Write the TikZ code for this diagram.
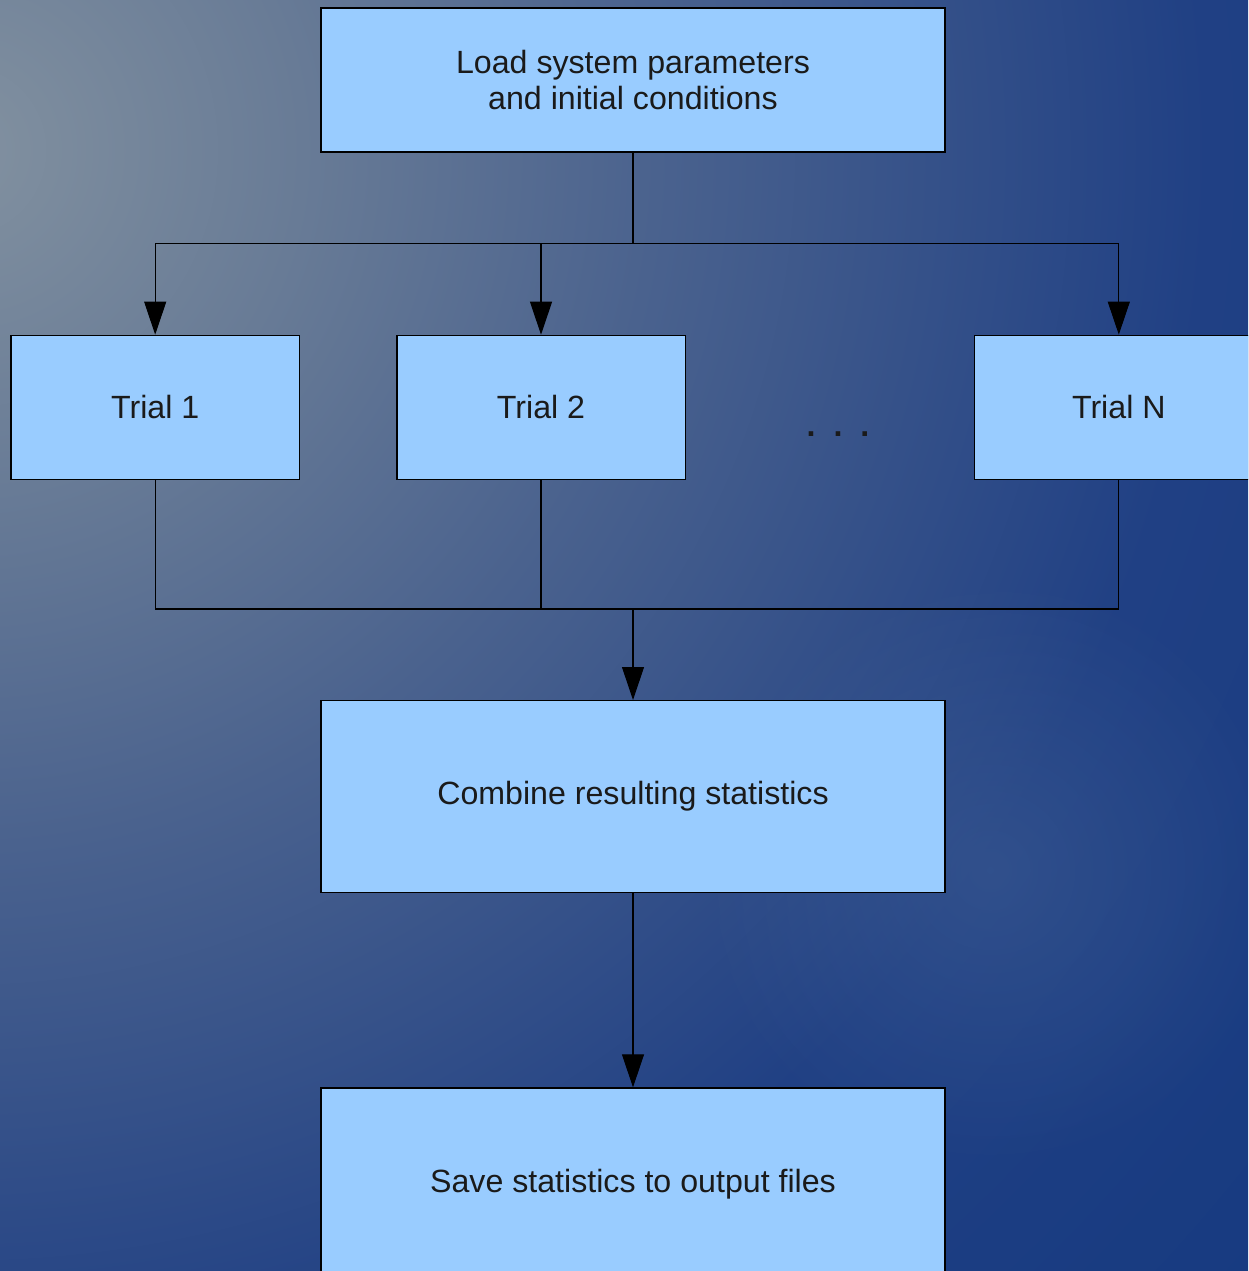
\documentclass[tikz,border=0pt]{standalone}
\usepackage{fontspec}
\setmainfont{Liberation Sans}
\usepackage{xcolor}
\usepackage{tikz}
\usetikzlibrary{arrows.meta, positioning, fadings}
\definecolor{boxfill}{RGB}{153,204,255}
\definecolor{textdark}{RGB}{26,26,26}
\definecolor{bglight}{RGB}{130,145,160}
\definecolor{bgsoft}{RGB}{104,123,150}
\definecolor{bgmid}{RGB}{74,98,142}
\definecolor{bgdeep}{RGB}{32,64,132}
\definecolor{bgdark}{RGB}{22,58,128}
\definecolor{bgspot}{RGB}{70,100,150}
\pgfdeclareradialshading{bgglow}{\pgfpointorigin}{%
  color(0bp)=(bglight); color(3.3bp)=(bgsoft); color(6.7bp)=(bgmid);
  color(12bp)=(bgdeep); color(17bp)=(bgdark); color(50bp)=(bgdark)}
\tikzfading[name=softspot, inner color=transparent!55, outer color=transparent!100]

\begin{document}
\begin{tikzpicture}[
  x=0.02cm, y=-0.02cm,
  tbox/.style={draw=black, line width=0.8pt, fill=boxfill,
               minimum width=12.48cm, minimum height=2.88cm,
               text=textdark, align=center,
               font=\fontsize{18.3}{20.5}\selectfont},
  bigbox/.style={tbox, minimum height=3.84cm},
  trial/.style={tbox, minimum width=5.77cm},
  link/.style={draw=black, line width=0.6pt},
  arrow/.style={link, -{Triangle[width=0.44cm, length=0.66cm]}},
]

%% background
\useasboundingbox (0,0) rectangle (1248,1271);
\clip (0,0) rectangle (1248,1271);
\fill[bgdark] (0,0) rectangle (1248,1271);
\shade[shading=bgglow] (-40,150) circle (52cm);
\fill[bgspot, path fading=softspot] (990,870) circle (6cm);

%% Boxes (top to bottom)
\node[tbox] (load) at (633,80) {Load system parameters\\and initial conditions};
\node[trial, below=3.64cm of load, xshift=-1.84cm] (t2) {Trial 2};
\node[trial, left=1.92cm of t2]  (t1) {Trial 1};
\node[trial, right=5.76cm of t2] (tn) {Trial N};
\node[anchor=base, text=textdark, font=\fontsize{18.3}{20.5}\selectfont]
  (dots) at (838,436) {\textbf{.}\hspace{0.36cm}\textbf{.}\hspace{0.36cm}\textbf{.}};

\coordinate[below=1.82cm of load] (split);
\coordinate (mid) at (load |- t2.south);
\coordinate[below=2.58cm of mid] (join);

\node[bigbox, below=4.4cm of mid]   (comb) {Combine resulting statistics};
\node[bigbox, below=3.88cm of comb] (save) {Save statistics to output files};

%% Fan out
\draw[link]  (load) -- (split);
\draw[arrow] (split) -| (t1.north);
\draw[arrow] (split) -| (t2.north);
\draw[arrow] (split) -| (tn.north);

%% Gather
\draw[link] (t1.south) |- (join);
\draw[link] (t2.south) |- (join);
\draw[link] (tn.south) |- (join);
\draw[arrow] (join) -- (comb);
\draw[arrow] (comb) -- (save);

\end{tikzpicture}
\end{document}
